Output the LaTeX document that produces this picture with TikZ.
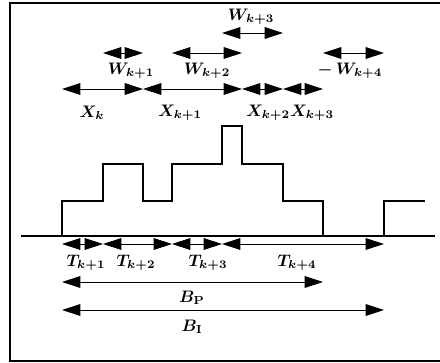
\documentclass[tikz,border=0pt]{standalone}
\usepackage{amsmath}
\usepackage{tikz}
\usetikzlibrary{arrows.meta,positioning,calc}

\begin{document}
\begin{tikzpicture}[x=0.6pt,y=-0.6pt,
  font=\fontsize{10}{12}\selectfont\boldmath,
  span/.style={{Triangle[length=11pt,width=7pt]}-{Triangle[length=11pt,width=7pt]},line width=0.5pt},
  wave/.style={line width=0.9pt}]
  \useasboundingbox (0,0) rectangle (440,363);
  % frame and time axis
  \draw[line width=1pt] (440,3) -- (10,3) -- (10,361) -- (440,361);
  \coordinate (ax0) at (21,236);
  \coordinate (ax1) at (435,236);
  \draw[wave] (ax0) -- (ax1);
  % instants on the axis
  \foreach \n/\x in {a1/62,a2/103,d1/143,a3/172,a4/222,d2/242,d3/283,d4/323,a5/384}
    \coordinate (\n) at (\x,236);
  % rows of the arrows
  \coordinate (rowW3) at (0,33);
  \coordinate (rowW) at (0,53);
  \coordinate (rowX) at (0,89);
  \coordinate (rowT) at (0,244);
  \coordinate (rowBp) at (0,282);
  \coordinate (rowBi) at (0,310);
  % number in system
  \draw[wave] (a1) -- (62,201) -- (103,201) -- (103,164) -- (143,164) -- (143,201)
    -- (172,201) -- (172,164) -- (222,164) -- (222,126) -- (242,126) -- (242,164)
    -- (283,164) -- (283,201) -- (323,201) -- (d4);
  \draw[wave] (a5) -- (384,201) -- (425,201);
  % waiting times
  \draw[span] (a2 |- rowW) -- (d1 |- rowW);
  \draw[span] (a3 |- rowW) -- (d2 |- rowW);
  \draw[span] (a4 |- rowW3) -- (d3 |- rowW3);
  \draw[span] (d4 |- rowW) -- (a5 |- rowW);
  \node (w1) at (131,71) {$W_{k+1}$};
  \node (w2) at (207,71) {$W_{k+2}$};
  \node (w3) at (251,17) {$W_{k+3}$};
  \node (w4) at (350,71) {$-\,W_{k+4}$};
  % departures
  \draw[span] (a1 |- rowX) -- (d1 |- rowX);
  \draw[span] (d1 |- rowX) -- (d2 |- rowX);
  \draw[span] (d2 |- rowX) -- (d3 |- rowX);
  \draw[span] (d3 |- rowX) -- (d4 |- rowX);
  \node (x0) at (92,113) {$X_{k}$};
  \node (x1) at (180,113) {$X_{k+1}$};
  \node (x2) at (268,113) {$X_{k+2}$};
  \node (x3) at (312,113) {$X_{k+3}$};
  % interarrival times
  \draw[span] (a1 |- rowT) -- (a2 |- rowT);
  \draw[span] (a2 |- rowT) -- (a3 |- rowT);
  \draw[span] (a3 |- rowT) -- (a4 |- rowT);
  \draw[span] (a4 |- rowT) -- (a5 |- rowT);
  \node (t1) at (86,263) {$T_{k+1}$};
  \node (t2) at (136,263) {$T_{k+2}$};
  \node (t3) at (208,263) {$T_{k+3}$};
  \node (t4) at (297,263) {$T_{k+4}$};
  % busy and idle periods
  \draw[span] (a1 |- rowBp) -- (d4 |- rowBp);
  \draw[span] (a1 |- rowBi) -- (a5 |- rowBi);
  \node (bp) at (192,298) {$B_{\mathbf{P}}$};
  \node (bi) at (192,327) {$B_{\mathbf{I}}$};
\end{tikzpicture}
\end{document}
